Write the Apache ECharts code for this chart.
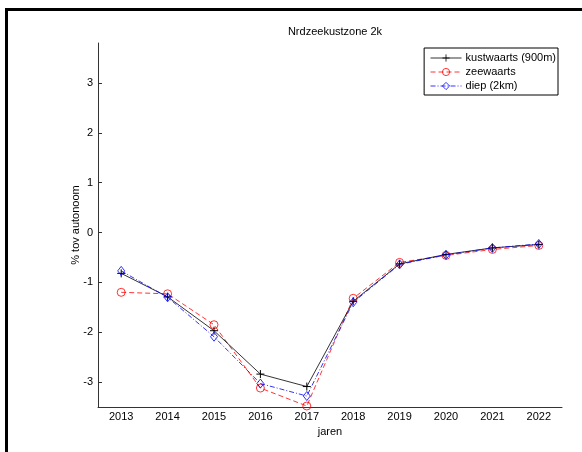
<!DOCTYPE html>
<html>
<head>
<meta charset="utf-8">
<script src="https://cdn.jsdelivr.net/npm/echarts@6/dist/echarts.min.js"></script>
<style>
  html, body { margin: 0; padding: 0; background: #fff; }
  #chart { width: 582px; height: 452px; }
</style>
</head>
<body>
<div id="chart"></div>
<script>
// Years on the horizontal axis
var years = ['2013', '2014', '2015', '2016', '2017', '2018', '2019', '2020', '2021', '2022'];

// Change relative to the autonomous scenario (%)
var kustwaarts = [-0.82, -1.29, -1.97, -2.84, -3.09, -1.38, -0.63, -0.44, -0.31, -0.24];
var zeewaarts  = [-1.20, -1.23, -1.85, -3.12, -3.48, -1.32, -0.60, -0.46, -0.34, -0.26];
var diep       = [-0.77, -1.30, -2.09, -3.03, -3.28, -1.40, -0.64, -0.45, -0.31, -0.23];

// Labelled ticks on the value axis
var yTicks = [-3, -2, -1, 0, 1, 2, 3];

var FONT = '"Liberation Sans", Arial, sans-serif';
var PLUS = 'path://M0,5L10,5M5,0L5,10';

var chart = echarts.init(document.getElementById('chart'), null, { renderer: 'canvas' });

chart.setOption({
  animation: false,
  backgroundColor: '#fff',
  textStyle: { fontFamily: FONT, color: '#000' },
  title: {
    text: 'Nrdzeekustzone 2k',
    left: 330,
    textAlign: 'center',
    top: 21,
    textStyle: { fontFamily: FONT, fontSize: 11, fontWeight: 'normal', color: '#000' }
  },
  legend: {
    orient: 'vertical',
    right: 24,
    top: 48,
    padding: [4, 2, 3, 6],
    itemGap: 2,
    itemWidth: 31,
    itemHeight: 9,
    borderColor: '#000',
    borderWidth: 1,
    backgroundColor: '#fff',
    lineStyle: { width: 0.8 },
    itemStyle: { borderWidth: 0.8 },
    textStyle: { fontFamily: FONT, fontSize: 11, lineHeight: 12, color: '#000', padding: [0, 0, 0, -1] },
    data: ['kustwaarts (900m)', 'zeewaarts', 'diep (2km)']
  },
  grid: { left: 98, right: 20, top: 43, bottom: 45, containLabel: false },
  xAxis: {
    type: 'category',
    data: years,
    boundaryGap: true,
    name: 'jaren',
    nameLocation: 'middle',
    nameGap: 19,
    nameMoveOverlap: false,
    nameTextStyle: { fontFamily: FONT, fontSize: 11, color: '#000' },
    axisLine: { onZero: false, lineStyle: { color: '#333', width: 1 } },
    axisTick: { alignWithLabel: true, inside: true, length: 4, lineStyle: { color: '#333' } },
    axisLabel: { fontFamily: FONT, fontSize: 11, color: '#000', margin: 4 },
    splitLine: { show: false }
  },
  yAxis: {
    type: 'value',
    min: -3.5,
    max: 3.8,
    name: '% tov autonoom',
    nameLocation: 'middle',
    nameRotate: 90,
    nameGap: 17,
    nameMoveOverlap: false,
    nameTextStyle: { fontFamily: FONT, fontSize: 11, color: '#000' },
    axisLine: { show: true, onZero: false, lineStyle: { color: '#333', width: 1 } },
    axisTick: { show: true, inside: true, length: 4, customValues: yTicks, lineStyle: { color: '#333' } },
    axisLabel: { fontFamily: FONT, fontSize: 11, color: '#000', margin: 5, customValues: yTicks },
    splitLine: { show: false }
  },
  series: [
    {
      name: 'kustwaarts (900m)',
      type: 'line',
      data: kustwaarts,
      symbol: PLUS,
      symbolSize: 8,
      lineStyle: { color: '#000', width: 0.8, type: 'solid' },
      itemStyle: { color: 'rgba(0,0,0,0)', borderColor: '#000', borderWidth: 1 },
      z: 3
    },
    {
      name: 'zeewaarts',
      type: 'line',
      data: zeewaarts,
      symbol: 'circle',
      symbolSize: 8,
      lineStyle: { color: '#ff0000', width: 0.8, type: [5, 3] },
      itemStyle: { color: 'rgba(0,0,0,0)', borderColor: '#ff0000', borderWidth: 0.8 },
      z: 2
    },
    {
      name: 'diep (2km)',
      type: 'line',
      data: diep,
      symbol: 'diamond',
      symbolSize: [7, 9],
      lineStyle: { color: '#0000ff', width: 0.8, type: [5, 2, 1, 2] },
      itemStyle: { color: 'rgba(0,0,0,0)', borderColor: '#0000ff', borderWidth: 0.8 },
      z: 4
    }
  ],
  graphic: [
    { type: 'rect', shape: { x: 5, y: 8, width: 577, height: 3 }, style: { fill: '#000' }, silent: true },
    { type: 'rect', shape: { x: 5, y: 8, width: 3, height: 444 }, style: { fill: '#000' }, silent: true }
  ]
});
</script>
</body>
</html>
